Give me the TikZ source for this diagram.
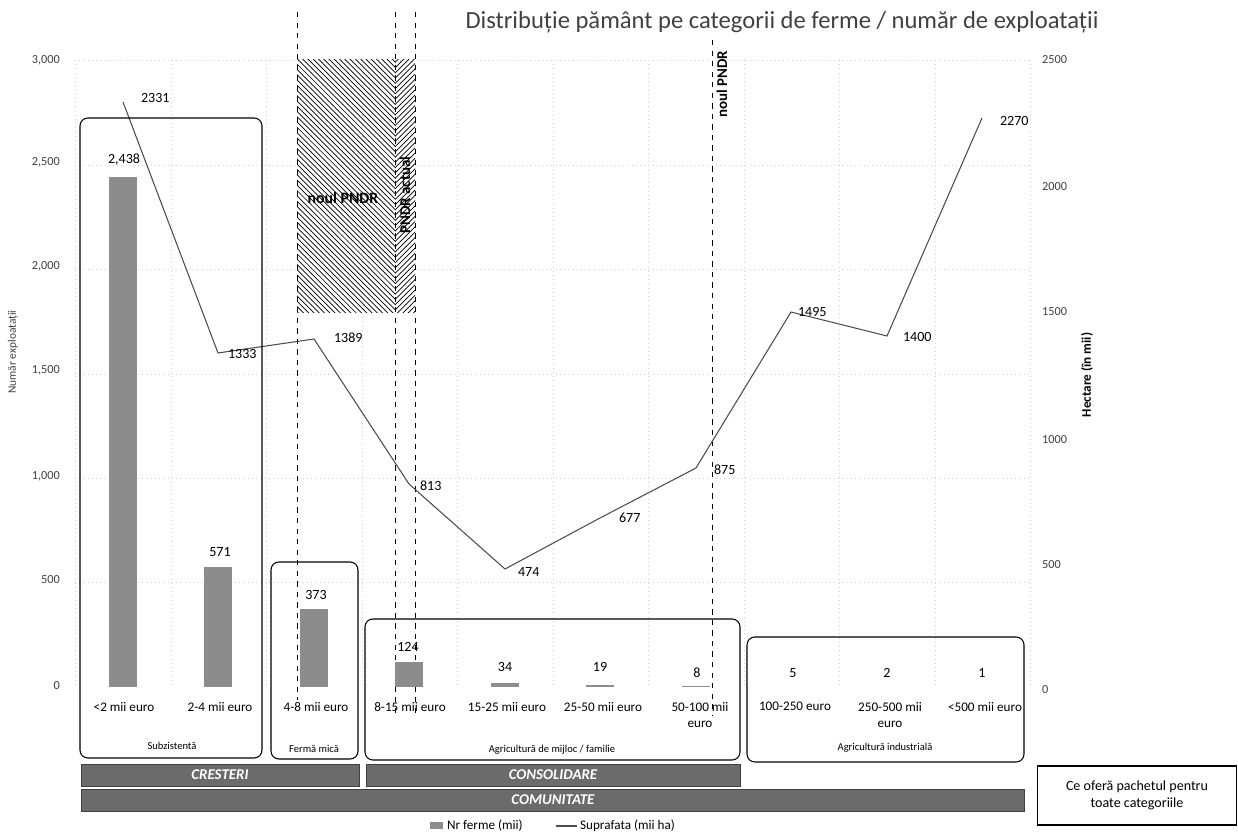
\documentclass[tikz,border=0pt]{standalone}
\usepackage{fontspec}
\setmainfont{Carlito}
\usetikzlibrary{patterns,positioning}

\begin{document}
\begin{tikzpicture}[
	x=0.02cm, y=-0.02cm,
		font=\fontsize{7.5}{9}\selectfont,
		bar/.style={
			fill=black!45,
			draw=none
		},
		value/.style={
			font=\fontsize{8}{9}\selectfont,
			inner sep=1pt
		},
		tick/.style={
			font=\fontsize{7}{8}\selectfont,
			text=black!75,
			inner sep=1pt
		},
		category/.style={
			font=\fontsize{7.5}{9}\selectfont,
			align=center,
			anchor=north,
			inner sep=0pt
		},
		group/.style={
			rounded corners=4.5pt,
			draw,
			line width=0.6pt
		},
		grouplabel/.style={
			font=\fontsize{6}{7}\selectfont,
			inner sep=0pt
		},
		band/.style={
			fill=black!58,
			draw=black!75,
			line width=0.4pt
		},
		bandlabel/.style={
			text=white,
			font=\bfseries\itshape\fontsize{8.5}{10}\selectfont
		},
		series/.style={
			draw=black!70,
			line width=0.6pt
		},
		marker/.style={
			dashed,
			line width=0.5pt
		},
		gridline/.style={
			black!18,
			dotted,
			line width=0.4pt
		},
		pndr/.style={
			font=\bfseries\fontsize{9}{10}\selectfont,
			inner sep=0pt
		}
	]
	\useasboundingbox (0,0) rectangle (1238,837);
	% Title
	\node[font=\fontsize{14}{16}\selectfont, text=black!75] (title) at (782,22)
		{Distribuție pământ pe categorii de ferme / număr de exploatații};
	% Faint grid
	\draw[gridline] (75,60) -- (75,688) (171,60) -- (171,688) (266,60) -- (266,688)
		(362,60) -- (362,688) (457,60) -- (457,688) (553,60) -- (553,688)
		(648,60) -- (648,688) (744,60) -- (744,688) (839,60) -- (839,688)
		(935,60) -- (935,688) (1030,60) -- (1030,688);
	\draw[gridline] (75,60) -- (1030,60) (75,165) -- (1030,165) (75,269) -- (1030,269)
		(75,374) -- (1030,374) (75,478) -- (1030,478) (75,582) -- (1030,582);
	% Left axis
	\node[tick, anchor=east] (ly3000) at (62,60) {3,000};
	\node[tick, anchor=east] (ly2500) at (62,162) {2,500};
	\node[tick, anchor=east] (ly2000) at (62,266) {2,000};
	\node[tick, anchor=east] (ly1500) at (62,370) {1,500};
	\node[tick, anchor=east] (ly1000) at (62,476) {1,000};
	\node[tick, anchor=east] (ly500) at (62,580) {500};
	\node[tick, anchor=east] (ly0) at (62,686) {0};
	\node[tick, rotate=90, font=\fontsize{6.5}{8}\selectfont] (ltitle) at (13,352) {Număr exploatații};
	% Right axis
	\node[tick, anchor=west] (ry2500) at (1040,60) {2500};
	\node[tick, anchor=west] (ry2000) at (1040,187) {2000};
	\node[tick, anchor=west] (ry1500) at (1040,312) {1500};
	\node[tick, anchor=west] (ry1000) at (1040,440) {1000};
	\node[tick, anchor=west] (ry500) at (1040,565) {500};
	\node[tick, anchor=west] (ry0) at (1040,690) {0};
	\node[tick, rotate=90, text=black, font=\bfseries\fontsize{7.5}{9}\selectfont] (rtitle) at (1087,375) {Hectare (în mii)};
	% PNDR area
	\fill[pattern=north west lines] (297,60) rectangle (395,313);
	\fill[pattern=north east lines] (395,60) rectangle (415,313);
	\draw[marker] (297,12) -- (297,700);
	\draw[marker] (395,12) -- (395,715);
	\draw[marker] (415,12) -- (415,715);
	\draw[marker] (712,40) -- (712,715);
	\node[pndr] (noul_pndr) at (343,198) {noul PNDR};
	\node[pndr, rotate=90, font=\bfseries\fontsize{8.5}{10}\selectfont] (pndr_actual) at (405,195) {PNDR actual};
	\node[pndr, rotate=90, font=\bfseries\fontsize{8.5}{10}\selectfont] (noul_pndr2) at (722,84) {noul PNDR};
	% Bars
	\fill[bar] (109,177) rectangle (137,687);
	\fill[bar] (204,567) rectangle (232,687);
	\fill[bar] (300,609) rectangle (328,687);
	\fill[bar] (395,662) rectangle (423,687);
	\fill[bar] (491,683) rectangle (519,687);
	\fill[bar] (586,685) rectangle (614,687);
	\fill[bar] (682,686) rectangle (710,687);
	% Bar values
	\node[value] (v2438) at (124,160) {2,438};
	\node[value] (v571) at (220,552) {571};
	\node[value] (v373) at (316,595) {373};
	\node[value] (v124) at (408,647) {124};
	\node[value] (v34) at (505,667) {34};
	\node[value] (v19) at (600,667) {19};
	\node[value] (v8) at (697,673) {8};
	\node[value] (v5) at (793,673) {5};
	\node[value] (v2) at (887,673) {2};
	\node[value] (v1) at (982,673) {1};
	% Surface line
	\coordinate (s1) at (123,102);
	\coordinate (s2) at (218,353);
	\coordinate (s3) at (314,339);
	\coordinate (s4) at (409,484);
	\coordinate (s5) at (505,569);
	\coordinate (s6) at (600,518);
	\coordinate (s7) at (696,468);
	\coordinate (s8) at (791,312);
	\coordinate (s9) at (887,336);
	\coordinate (s10) at (982,118);
	\draw[series] (s1) -- (s2) -- (s3) -- (s4) -- (s5) -- (s6) -- (s7) -- (s8) -- (s9) -- (s10);
	\node[value, anchor=west] (l2331) at (139,98) {2331};
	\node[value, anchor=west] (l1333) at (226,354) {1333};
	\node[value, anchor=west] (l1389) at (332,338) {1389};
	\node[value, anchor=west] (l813) at (418,486) {813};
	\node[value, anchor=west] (l474) at (516,572) {474};
	\node[value, anchor=west] (l677) at (617,518) {677};
	\node[value, anchor=west] (l875) at (712,470) {875};
	\node[value, anchor=west] (l1495) at (796,312) {1495};
	\node[value, anchor=west] (l1400) at (901,337) {1400};
	\node[value, anchor=west] (l2270) at (998,121) {2270};
	% Categories
	\node[category] (c1) at (124,702) {<2 mii euro};
	\node[category] (c2) at (220,702) {2-4 mii euro};
	\node[category] (c3) at (316,702) {4-8 mii euro};
	\node[category] (c4) at (410,702) {8-15 mii euro};
	\node[category] (c5) at (507,702) {15-25 mii euro};
	\node[category] (c6) at (603,702) {25-50 mii euro};
	\node[category] (c7) at (700,702) {50-100 mii\\euro};
	\node[category] (c8) at (795,702) {100-250 euro};
	\node[category] (c9) at (890,702) {250-500 mii\\euro};
	\node[category] (c10) at (985,702) {<500 mii euro};
	% Group boxes
	\draw[group] (80,118) rectangle (262,758);
	\node[grouplabel] (subzistenta) at (172,746) {Subzistentă};
	\draw[group] (271,562) rectangle (358,759);
	\node[grouplabel] (ferma_mica) at (314,749) {Fermă mică};
	\draw[group] (365,619) rectangle (740,760);
	\node[grouplabel] (familie) at (552,750) {Agricultură de mijloc / familie};
	\draw[group] (747,637) rectangle (1024,762);
	\node[grouplabel] (industriala) at (885,748) {Agricultură industrială};
	% Bands
	\draw[band] (81,764) rectangle (359,786);
	\node[bandlabel] (cresteri) at (220,775) {CRESTERI};
	\draw[band] (366,764) rectangle (740,786);
	\node[bandlabel] (consolidare) at (553,775) {CONSOLIDARE};
	\draw[band] (81,789) rectangle (1024,811);
	\node[bandlabel] (comunitate) at (553,800) {COMUNITATE};
	% Legend
	\fill[bar] (430,822) rectangle (443,829);
	\node[anchor=west, inner sep=1pt] (leg_ferme) at (445,826) {Nr ferme (mii)};
	\coordinate (leg_a) at (556,826);
	\coordinate (leg_b) at (577,826);
	\draw[series] (leg_a) -- (leg_b);
	\node[anchor=west, inner sep=1pt] (leg_supr) at (578,826) {Suprafata (mii ha)};
	% Package box
	\node[draw, line width=0.8pt, minimum width=3.98cm, minimum height=1.18cm, align=center,
		font=\fontsize{8}{10}\selectfont] (pachet) at (1137,795.5)
		{Ce oferă pachetul pentru\\toate categoriile};
\end{tikzpicture}
\end{document}
